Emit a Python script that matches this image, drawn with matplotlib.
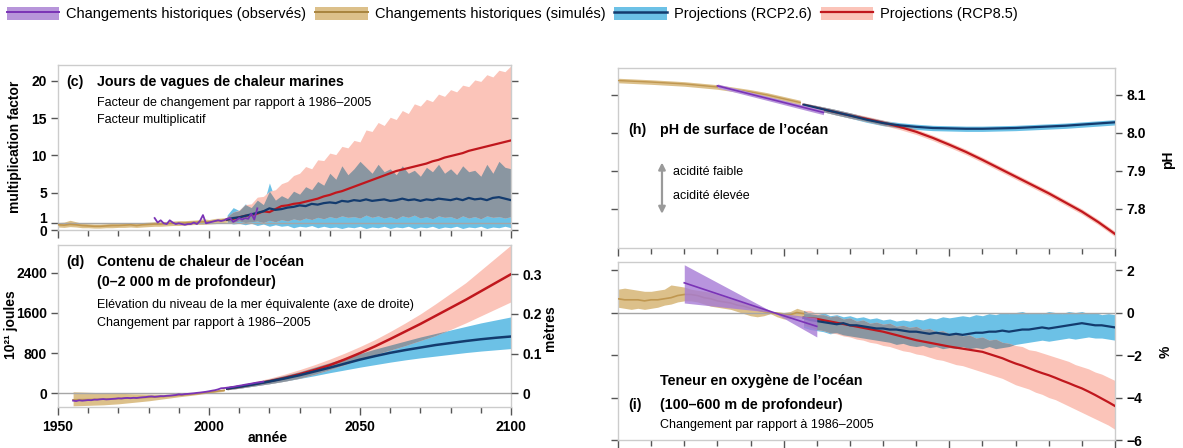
import numpy as np
import matplotlib
matplotlib.use('Agg')
import matplotlib.pyplot as plt
from matplotlib.patches import Patch
from matplotlib.lines import Line2D
from matplotlib import font_manager as fm

names = {f.name for f in fm.fontManager.ttflist}
FAM = [n for n in ['Liberation Sans', 'DejaVu Sans'] if n in names]
plt.rcParams['font.family'] = FAM

# ---------------- DATA ----------------
legend_labels = ["Changements historiques (observés)", "Changements historiques (simulés)",
                 "Projections (RCP2.6)", "Projections (RCP8.5)"]

# (c) marine heatwave days
c_hist_years = np.arange(1950, 2007, 2)
c_hist_mid = [0.7,0.65,0.75,0.7,0.6,0.55,0.5,0.5,0.55,0.6,0.6,0.65,0.7,0.6,0.7,0.75,0.8,0.8,0.85,0.9,0.9,0.95,1.0,1.05,1.1,1.1,1.2,1.3,1.4]
c_hist_hi = [1.0,1.05,1.3,1.1,0.9,0.85,0.8,0.8,0.85,0.9,0.95,0.95,1.0,0.9,1.0,1.05,1.1,1.1,1.15,1.2,1.25,1.25,1.3,1.35,1.5,1.4,1.55,1.6,1.7]
c_hist_lo = [0.4,0.35,0.45,0.4,0.3,0.3,0.25,0.25,0.3,0.3,0.35,0.35,0.4,0.35,0.4,0.45,0.5,0.5,0.55,0.6,0.6,0.65,0.7,0.75,0.75,0.8,0.85,0.95,1.05]
c_obs_years = np.arange(1982, 2017)
c_obs = [1.6,1.0,1.3,0.9,0.8,1.3,1.0,0.8,0.9,0.8,0.7,0.8,0.8,1.0,0.8,1.2,2.0,0.9,1.0,1.1,1.2,1.3,1.2,1.3,1.5,1.6,1.1,1.3,1.6,1.4,1.6,1.5,2.2,1.4,2.9]
c_proj_years = np.arange(2006, 2101, 2)
c_r26_mid = [1.4,1.6,1.7,1.9,2.1,2.3,2.5,2.9, 2.7,2.8,3.0,3.1,3.3,3.2,3.5,3.4, 3.6,3.7,3.6,3.9,3.8,4.0,3.9,4.1,
             3.9,4.0,4.1,3.9,4.0,4.2,4.0,4.1, 3.9,4.1,4.0,4.2,4.1,4.0,4.2,4.0, 4.3,4.1,4.2,4.0,4.3,4.4,4.2,4.0]
c_r26_hi = [2.0,3.0,2.6,3.5,3.0,4.0,3.4,6.3, 4.0,4.6,4.2,5.2,4.8,5.8,5.4,6.5, 6.0,7.6,6.8,8.6,7.4,8.2,9.2,8.4,
            7.6,8.8,7.8,8.2,7.4,8.6,7.6,8.0, 7.2,8.4,7.8,8.8,7.6,8.2,7.4,8.6, 7.8,8.0,7.2,8.8,7.6,9.2,8.4,8.2]
c_r26_lo = [1.0,0.8,0.9,0.7,0.9,0.6,0.8,0.5, 0.7,0.5,0.6,0.3,0.5,0.4,0.6,0.3, 0.5,0.3,0.4,0.2,0.4,0.3,0.5,0.2,
            0.4,0.3,0.5,0.2,0.4,0.3,0.5,0.2, 0.4,0.3,0.5,0.2,0.4,0.3,0.5,0.2, 0.4,0.3,0.5,0.2,0.4,0.3,0.5,0.3]
c_r85_mid = [1.4,1.5,1.7,1.9,2.0,2.2,2.5,2.4, 2.8,3.2,3.3,3.5,3.6,3.8,4.0,4.2, 4.5,4.7,5.0,5.2,5.5,5.8,6.1,6.4,
             6.7,7.0,7.3,7.6,7.9,8.1,8.3,8.5, 8.7,8.9,9.2,9.4,9.7,9.9,10.1,10.3, 10.6,10.8,11.0,11.2,11.4,11.6,11.8,12.0]
c_r85_hi = [1.8,2.4,2.7,3.4,3.5,4.4,4.5,5.2, 5.4,6.2,6.5,7.3,7.6,8.5,8.2,9.4, 9.3,10.3,10.1,11.2,11.0,12.0,11.8,13.4,
            13.2,14.4,14.0,15.1,14.8,16.0,15.6,16.9, 16.6,17.5,17.2,18.2,17.9,18.8,18.5,19.4, 19.2,20.1,19.9,20.8,20.5,21.4,21.2,22.0]
c_r85_lo = [1.1,1.0,1.2,1.0,1.1,1.2,1.0,1.3, 1.1,1.4,1.2,1.5,1.3,1.6,1.4,1.7, 1.5,1.8,1.6,1.9,1.7,1.8,1.6,2.0,
            1.7,1.9,1.6,1.8,1.5,1.9,1.7,2.0, 1.6,1.8,1.5,1.9,1.7,1.8,1.5,1.9, 1.6,1.8,1.5,1.9,1.7,1.8,1.6,1.8]

# (d) ocean heat content (1e21 J)
d_hist_years = np.arange(1955, 2006, 5)
d_hist_mid = [-130,-125,-115,-105,-90,-80,-65,-40,-15,20,60]
d_hist_hi = [30,20,10,0,-10,-15,-20,-10,5,35,80]
d_hist_lo = [-250,-240,-230,-210,-180,-150,-110,-70,-35,5,40]
d_obs_years = np.arange(1955, 2019)
d_obs = [-146,-155,-140,-148,-142,-135,-138,-126,-128,-120,-115,-122,-118,-112,-108,-100,-104,-96,-92,-98,-90,-94,-86,-80,-76,-66,
         -62,-70,-64,-56,-58,-50,-46,-40,-34,-20,-26,-16,-12,-6,0,8,14,22,30,40,52,62,78,100,104,112,120,128,140,150,160,172,
         182,192,204,214,222,232]
d_proj_years = [2006,2010,2015,2020,2025,2030,2035,2040,2045,2050,2055,2060,2065,2070,2075,2080,2085,2090,2095,2100]
d_r26_mid = [95,130,180,235,295,360,435,510,590,670,740,805,860,910,960,1000,1040,1075,1105,1130]
d_r26_hi = [120,160,220,285,355,430,520,610,700,790,880,960,1040,1120,1190,1260,1330,1400,1460,1520]
d_r26_lo = [70,100,145,190,240,295,350,410,465,520,570,620,665,705,740,775,810,840,865,890]
d_r85_mid = [95,130,185,240,305,380,465,560,675,800,935,1080,1230,1380,1540,1700,1860,2030,2200,2370]
d_r85_hi = [120,165,230,300,380,470,570,680,800,930,1070,1230,1400,1580,1780,1990,2200,2450,2700,2950]
d_r85_lo = [70,100,145,190,240,300,380,470,570,680,770,860,950,1050,1150,1270,1400,1540,1680,1820]

# (h) surface pH
h_hist_years = [1950,1960,1970,1980,1990,1995,2000,2005]
h_hist_mid = [8.138,8.134,8.129,8.121,8.108,8.100,8.090,8.080]
h_hist_hi = [8.144,8.140,8.135,8.127,8.114,8.106,8.096,8.086]
h_hist_lo = [8.132,8.128,8.123,8.115,8.102,8.094,8.084,8.074]
h_obs_years = [1980, 2012]
h_obs_mid = [8.124, 8.054]
h_obs_hi = [8.129, 8.060]
h_obs_lo = [8.119, 8.048]
h_proj_years = [2006,2010,2015,2020,2025,2030,2035,2040,2045,2050,2055,2060,2065,2070,2075,2080,2085,2090,2095,2100]
h_r26_mid = [8.074,8.066,8.056,8.046,8.035,8.026,8.020,8.016,8.013,8.012,8.011,8.011,8.012,8.013,8.015,8.017,8.019,8.022,8.025,8.028]
h_r26_hi = [8.079,8.072,8.063,8.053,8.042,8.033,8.027,8.023,8.020,8.019,8.018,8.018,8.019,8.020,8.022,8.024,8.026,8.029,8.032,8.035]
h_r26_lo = [8.069,8.060,8.049,8.039,8.028,8.019,8.013,8.009,8.006,8.005,8.004,8.004,8.005,8.006,8.008,8.010,8.012,8.015,8.018,8.021]
h_r85_mid = [8.074,8.066,8.056,8.046,8.037,8.027,8.016,8.003,7.987,7.969,7.950,7.929,7.907,7.885,7.863,7.841,7.817,7.793,7.765,7.734]
h_r85_hi = [8.079,8.072,8.063,8.053,8.044,8.034,8.023,8.010,7.994,7.976,7.957,7.936,7.914,7.892,7.870,7.848,7.824,7.800,7.772,7.741]
h_r85_lo = [8.069,8.060,8.049,8.039,8.030,8.020,8.009,7.996,7.980,7.962,7.943,7.922,7.900,7.878,7.856,7.834,7.810,7.786,7.758,7.727]

# (i) oxygen content (%)
i_hist_years = np.arange(1950, 2007, 2)
i_hist_mid = [0.65,0.6,0.6,0.6,0.55,0.6,0.6,0.65,0.7,0.8,0.85,0.85,0.8,0.7,0.65,0.55,0.5,0.45,0.35,0.3,0.2,0.12,0.05,0.0,-0.05,-0.1,-0.1,0.0,-0.05]
i_hist_hi = [1.1,1.15,1.1,1.05,1.0,1.0,1.05,1.1,1.3,1.25,1.2,1.1,1.05,1.0,0.95,0.85,0.75,0.65,0.55,0.45,0.35,0.25,0.15,0.05,0.05,0.0,0.05,0.2,0.1]
i_hist_lo = [0.25,0.2,0.15,0.2,0.15,0.2,0.25,0.35,0.4,0.5,0.55,0.55,0.5,0.4,0.3,0.25,0.2,0.15,0.05,-0.05,-0.15,-0.2,-0.15,-0.05,-0.2,-0.3,-0.3,-0.2,-0.25]
i_obs_years = [1970, 1997, 2010]
i_obs_mid = [1.4, 0.0, -0.65]
i_obs_hi = [2.25, 0.0, -0.25]
i_obs_lo = [0.45, 0.0, -1.15]
i_proj_years = np.arange(2006, 2101, 2)
i_r26_mid = [-0.25,-0.35,-0.4,-0.45,-0.5,-0.55,-0.5,-0.6, -0.6,-0.65,-0.7,-0.75,-0.75,-0.8,-0.8,-0.85,
             -0.9,-0.9,-0.95,-1.0,-0.95,-1.0,-1.05,-1.0, -1.05,-1.0,-0.95,-0.95,-0.9,-0.9,-0.85,-0.9,
             -0.85,-0.8,-0.8,-0.75,-0.7,-0.75,-0.7,-0.65, -0.6,-0.55,-0.5,-0.55,-0.6,-0.6,-0.65,-0.7]
i_r26_hi = [0.1,-0.05,-0.1,0.0,-0.15,-0.1,-0.2,-0.15, -0.25,-0.2,-0.3,-0.25,-0.35,-0.3,-0.4,-0.35,
            -0.4,-0.3,-0.35,-0.25,-0.3,-0.2,-0.25,-0.2, -0.15,-0.2,-0.1,-0.15,-0.05,-0.1,0.0,-0.05,
            0.0,0.05,-0.05,0.0,-0.05,0.05,0.0,-0.05, 0.05,0.0,0.05,-0.05,0.0,-0.1,-0.05,-0.1]
i_r26_lo = [-0.7,-0.8,-0.85,-0.9,-1.0,-0.95,-1.05,-1.1, -1.15,-1.2,-1.25,-1.3,-1.35,-1.4,-1.5,-1.45,
            -1.55,-1.6,-1.55,-1.65,-1.6,-1.7,-1.65,-1.7, -1.6,-1.7,-1.65,-1.7,-1.6,-1.7,-1.65,-1.6,
            -1.5,-1.45,-1.4,-1.35,-1.3,-1.35,-1.3,-1.25, -1.2,-1.25,-1.2,-1.15,-1.2,-1.2,-1.25,-1.3]
i_r85_mid = [-0.25,-0.28,-0.3,-0.36,-0.42,-0.48,-0.54,-0.6, -0.66,-0.72,-0.78,-0.84,-0.9,-0.98,-1.06,-1.14,
             -1.22,-1.3,-1.36,-1.42,-1.48,-1.54,-1.6,-1.65, -1.7,-1.75,-1.8,-1.85,-1.95,-2.05,-2.15,-2.28,
             -2.4,-2.5,-2.62,-2.74,-2.85,-2.95,-3.07,-3.2, -3.32,-3.45,-3.57,-3.72,-3.88,-4.05,-4.22,-4.4]
i_r85_hi = [0.1,0.1,-0.05,-0.1,-0.2,-0.15,-0.3,-0.25, -0.4,-0.35,-0.5,-0.45,-0.55,-0.5,-0.65,-0.6,
            -0.7,-0.65,-0.8,-0.75,-0.9,-0.85,-1.0,-0.95, -1.1,-1.05,-1.2,-1.15,-1.3,-1.25,-1.4,-1.45,
            -1.55,-1.6,-1.75,-1.8,-1.9,-2.0,-2.1,-2.2, -2.3,-2.45,-2.55,-2.65,-2.8,-2.9,-3.05,-3.2]
i_r85_lo = [-0.6,-0.7,-0.8,-0.85,-0.95,-1.0,-1.1,-1.15, -1.25,-1.3,-1.4,-1.45,-1.55,-1.6,-1.7,-1.8,
            -1.85,-1.95,-2.0,-2.1,-2.2,-2.25,-2.35,-2.45, -2.5,-2.6,-2.7,-2.8,-2.9,-3.0,-3.1,-3.25,
            -3.4,-3.5,-3.6,-3.75,-3.85,-4.0,-4.1,-4.25, -4.4,-4.55,-4.7,-4.85,-5.0,-5.15,-5.3,-5.5]

# ---------------- STYLE ----------------
PUR_B, PUR_L = '#b795da', '#7a33b6'
ORA_B, ORA_L = '#dcc08a', '#c09750'
BLU_B, BLU_L = '#6cc1e6', '#133b6e'
RED_B, RED_L = '#fbc4b9', '#c0171d'
OVL = '#8a96a1'
SPINE = '#cccccc'
TICK = '#555555'
TFS = 10        # tick label size
TITLE = 10.3    # bold panel titles
SUB = 9         # subtitles

W, H = 1183, 448
fig = plt.figure(figsize=(W/100, H/100), dpi=100)

def rect(l, t, r, b):
    return [l/W, 1-b/H, (r-l)/W, (b-t)/H]

ax_c = fig.add_axes(rect(58, 65, 511, 230))
ax_d = fig.add_axes(rect(58, 245, 511, 407))
ax_h = fig.add_axes(rect(618, 68, 1115, 248))
ax_i = fig.add_axes(rect(618, 262, 1115, 440))

def style(ax):
    for s in ax.spines.values():
        s.set_color(SPINE)
        s.set_linewidth(1.0)
    ax.set_xlim(1950, 2100)
    ax.set_xticks([1950, 2000, 2050, 2100])
    ax.set_xticks(np.arange(1950, 2101, 10), minor=True)
    ax.tick_params(axis='both', which='both', direction='out', color=TICK, width=1)
    ax.tick_params(axis='x', which='major', length=6)
    ax.tick_params(axis='x', which='minor', length=4)
    ax.tick_params(axis='y', which='major', length=5, pad=3)

def band(ax, x, lo, hi, col, z):
    ax.fill_between(x, lo, hi, color=col, lw=0, zorder=z)

def proj(ax, x, b_lo, b_mid, b_hi, r_lo, r_mid, r_hi, lw=1.6):
    x = np.asarray(x)
    b_lo, b_hi, r_lo, r_hi = map(np.asarray, (b_lo, b_hi, r_lo, r_hi))
    band(ax, x, b_lo, b_hi, BLU_B, 2)
    band(ax, x, r_lo, r_hi, RED_B, 2.1)
    top = np.minimum(b_hi, r_hi)
    bot = np.maximum(b_lo, r_lo)
    ax.fill_between(x, bot, top, where=top > bot, interpolate=True, color=OVL, lw=0, zorder=2.2)
    ax.plot(x, r_mid, color=RED_L, lw=lw, zorder=6)
    ax.plot(x, b_mid, color=BLU_L, lw=lw, zorder=6.5)

# ---------------- (c) ----------------
ax = ax_c
style(ax)
ax.set_ylim(0, 22.1)
ax.axhline(1, color='#a6a6a6', lw=1.0, zorder=3)
band(ax, c_hist_years, c_hist_lo, c_hist_hi, ORA_B, 2.5)
ax.plot(c_hist_years, c_hist_mid, color=ORA_L, lw=1.2, zorder=4)
proj(ax, c_proj_years, c_r26_lo, c_r26_mid, c_r26_hi, c_r85_lo, c_r85_mid, c_r85_hi)
ax.plot(c_obs_years, c_obs, color=PUR_L, lw=1.3, zorder=7)
ax.set_yticks([0, 1, 5, 10, 15, 20], ['0', '1', '5', '10', '15', '20'], fontweight='bold', fontsize=TFS)
yl = ax.get_yticklabels()
yl[1].set_va('baseline')
ax.tick_params(axis='y', right=True, labelright=False)
ax.tick_params(axis='x', labelbottom=False)
ax.text(0.018, 0.895, '(c)', transform=ax.transAxes, fontsize=TITLE, fontweight='bold', va='center')
ax.text(0.086, 0.895, 'Jours de vagues de chaleur marines', transform=ax.transAxes, fontsize=TITLE, fontweight='bold', va='center')
ax.text(0.086, 0.768, 'Facteur de changement par rapport à 1986–2005', transform=ax.transAxes, fontsize=SUB, va='center')
ax.text(0.086, 0.665, 'Facteur multiplicatif', transform=ax.transAxes, fontsize=SUB, va='center')
fig.text(15/W, 1-147/H, 'multiplication factor', rotation=90, ha='center', va='center', fontsize=10, fontweight='bold')

# ---------------- (d) ----------------
ax = ax_d
style(ax)
ax.set_ylim(-273, 2951)
ax.axhline(0, color='#a6a6a6', lw=1.0, zorder=3)
band(ax, d_hist_years, d_hist_lo, d_hist_hi, ORA_B, 2.5)
ax.plot(d_hist_years, d_hist_mid, color=ORA_L, lw=1.2, zorder=4)
proj(ax, d_proj_years, d_r26_lo, d_r26_mid, d_r26_hi, d_r85_lo, d_r85_mid, d_r85_hi, lw=1.8)
ax.plot(d_obs_years, d_obs, color=PUR_L, lw=1.3, zorder=7)
ax.set_yticks([0, 800, 1600, 2400], ['0', '800', '1600', '2400'], fontweight='bold', fontsize=TFS)
ax.set_xticks([1950, 2000, 2050, 2100], ['1950', '2000', '2050', '2100'], fontweight='bold', fontsize=TFS)
ax.tick_params(axis='x', pad=3)
axr = ax.twinx()
for s in axr.spines.values():
    s.set_visible(False)
axr.set_ylim(-273/7900, 2951/7900)
axr.set_yticks([0, 0.1, 0.2, 0.3], ['0', '0.1', '0.2', '0.3'], fontweight='bold', fontsize=TFS)
axr.tick_params(axis='y', direction='out', color=TICK, width=1, length=5, pad=3)
ax.text(0.018, 0.895, '(d)', transform=ax.transAxes, fontsize=TITLE, fontweight='bold', va='center')
ax.text(0.086, 0.895, 'Contenu de chaleur de l’océan', transform=ax.transAxes, fontsize=TITLE, fontweight='bold', va='center')
ax.text(0.086, 0.772, '(0–2 000 m de profondeur)', transform=ax.transAxes, fontsize=TITLE, fontweight='bold', va='center')
ax.text(0.086, 0.63, 'Elévation du niveau de la mer équivalente (axe de droite)', transform=ax.transAxes, fontsize=SUB, va='center')
ax.text(0.086, 0.519, 'Changement par rapport à 1986–2005', transform=ax.transAxes, fontsize=SUB, va='center')
fig.text(11/W, 1-325/H, '10²¹ joules', rotation=90, ha='center', va='center', fontsize=10, fontweight='bold')
fig.text(550/W, 1-328/H, 'mètres', rotation=90, ha='center', va='center', fontsize=10, fontweight='bold')
fig.text(268/W, 1-438/H, 'année', ha='center', va='center', fontsize=10, fontweight='bold')

# ---------------- (h) ----------------
ax = ax_h
style(ax)
ax.set_ylim(7.697, 8.171)
band(ax, h_hist_years, h_hist_lo, h_hist_hi, ORA_B, 2.5)
ax.plot(h_hist_years, h_hist_mid, color=ORA_L, lw=1.0, zorder=4)
proj(ax, h_proj_years, h_r26_lo, h_r26_mid, h_r26_hi, h_r85_lo, h_r85_mid, h_r85_hi, lw=1.6)
band(ax, h_obs_years, h_obs_lo, h_obs_hi, PUR_B, 7)
ax.plot(h_obs_years, h_obs_mid, color=PUR_L, lw=1.2, zorder=7.5)
ax.set_yticks([7.8, 7.9, 8.0, 8.1], ['7.8', '7.9', '8.0', '8.1'], fontweight='bold', fontsize=TFS)
ax.tick_params(axis='y', left=True, right=True, labelleft=False, labelright=True)
ax.tick_params(axis='x', labelbottom=False)
ax.text(0.02, 0.656, '(h)', transform=ax.transAxes, fontsize=TITLE, fontweight='bold', va='center')
ax.text(0.085, 0.656, 'pH de surface de l’océan', transform=ax.transAxes, fontsize=TITLE, fontweight='bold', va='center')
ax.annotate('', xy=(0.0885, 0.475), xytext=(0.0885, 0.19), xycoords='axes fraction',
            arrowprops=dict(arrowstyle='<|-|>', color='#9a9a9a', lw=1.6, mutation_scale=10, shrinkA=0, shrinkB=0))
ax.text(0.111, 0.422, 'acidité faible', transform=ax.transAxes, fontsize=SUB, va='center')
ax.text(0.111, 0.289, 'acidité élevée', transform=ax.transAxes, fontsize=SUB, va='center')
fig.text(1168/W, 1-160/H, 'pH', rotation=90, ha='center', va='center', fontsize=10, fontweight='bold')

# ---------------- (i) ----------------
ax = ax_i
style(ax)
ax.set_ylim(-6, 2.38)
ax.axhline(0, color='#a6a6a6', lw=1.0, zorder=3)
band(ax, i_hist_years, i_hist_lo, i_hist_hi, ORA_B, 2.5)
ax.plot(i_hist_years, i_hist_mid, color=ORA_L, lw=1.2, zorder=4)
proj(ax, i_proj_years, i_r26_lo, i_r26_mid, i_r26_hi, i_r85_lo, i_r85_mid, i_r85_hi, lw=1.6)
ax.fill_between(i_obs_years, i_obs_lo, i_obs_hi, color='#a67bd6', alpha=0.8, lw=0, zorder=7)
ax.plot(i_obs_years, i_obs_mid, color=PUR_L, lw=1.2, zorder=7.5)
ax.set_yticks([-6, -4, -2, 0, 2], ['−6', '−4', '−2', '0', '2'], fontweight='bold', fontsize=TFS)
ax.tick_params(axis='y', left=True, right=True, labelleft=False, labelright=True)
ax.tick_params(axis='x', labelbottom=False)
ax.text(0.02, 0.197, '(i)', transform=ax.transAxes, fontsize=TITLE, fontweight='bold', va='center')
ax.text(0.085, 0.331, 'Teneur en oxygène de l’océan', transform=ax.transAxes, fontsize=TITLE, fontweight='bold', va='center')
ax.text(0.085, 0.197, '(100–600 m de profondeur)', transform=ax.transAxes, fontsize=TITLE, fontweight='bold', va='center')
ax.text(0.085, 0.084, 'Changement par rapport à 1986–2005', transform=ax.transAxes, fontsize=SUB, va='center')
fig.text(1166/W, 1-352/H, '%', rotation=90, ha='center', va='center', fontsize=10, fontweight='bold')

# ---------------- legend ----------------
handles = [(Patch(facecolor=PUR_B, lw=0), Line2D([], [], color=PUR_L, lw=1.4)),
           (Patch(facecolor=ORA_B, lw=0), Line2D([], [], color='#a8843e', lw=1.4)),
           (Patch(facecolor=BLU_B, lw=0), Line2D([], [], color=BLU_L, lw=1.8)),
           (Patch(facecolor=RED_B, lw=0), Line2D([], [], color=RED_L, lw=1.6))]
fig.legend(handles, legend_labels, loc='upper left', bbox_to_anchor=(0.0, 1.0), ncol=4, frameon=False,
           handlelength=3.6, handleheight=1.05, columnspacing=0.6, handletextpad=0.5, fontsize=10.5,
           borderaxespad=0.05)

fig.savefig('out.png', dpi=100)
